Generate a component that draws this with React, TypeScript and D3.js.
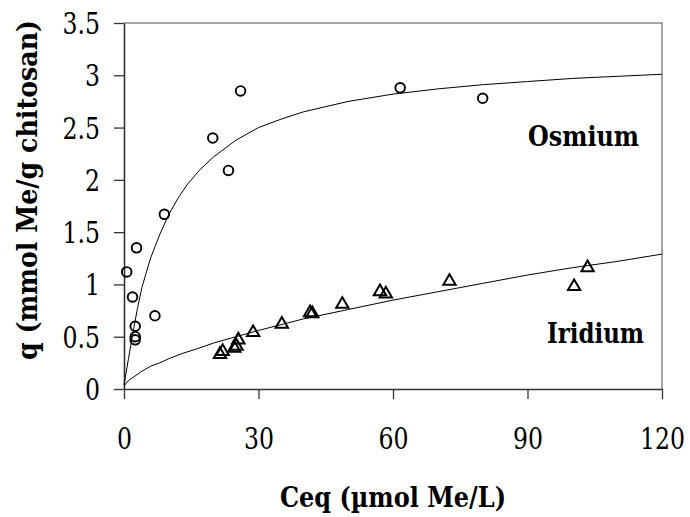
import React, { useEffect, useRef } from 'react';
import * as d3 from 'd3';

// axis ticks
const xTicks = [0, 30, 60, 90, 120];
const yTicks = [0, 0.5, 1, 1.5, 2, 2.5, 3, 3.5];

// measured points, Osmium (circles)
const osmiumCeq = [0.6, 1.9, 2.5, 2.5, 2.5, 2.8, 6.9, 9.0, 19.8, 23.3, 26.0, 61.6, 80.0];
const osmiumQ = [1.12, 0.88, 0.60, 0.50, 0.47, 1.35, 0.70, 1.67, 2.40, 2.09, 2.85, 2.88, 2.78];

// measured points, Iridium (triangles)
const iridiumCeq = [21.4, 22.0, 24.6, 25.1, 25.5, 28.8, 35.2, 41.5, 42.0, 48.7, 57.1, 58.4, 72.6, 100.4, 103.4];
const iridiumQ = [0.33, 0.36, 0.39, 0.41, 0.47, 0.54, 0.62, 0.73, 0.72, 0.81, 0.93, 0.91, 1.03, 0.98, 1.16];

// model curves
const osmiumFitCeq = [0, 1, 2, 3, 4, 5, 6, 7, 8, 10, 12, 14, 17, 20, 25, 30, 35, 40, 50, 60, 70, 80, 90, 100, 110, 120];
const osmiumFitQ = [0.04, 0.29, 0.54, 0.77, 0.97, 1.12, 1.26, 1.37, 1.48, 1.67, 1.82, 1.95, 2.10, 2.22, 2.38, 2.50, 2.58, 2.65, 2.75, 2.82, 2.87, 2.91, 2.94, 2.97, 2.99, 3.01];
const iridiumFitCeq = [0, 1, 2, 4, 6, 8, 10, 13, 16, 20, 25, 30, 40, 50, 60, 70, 80, 90, 100, 110, 120];
const iridiumFitQ = [0.03, 0.08, 0.11, 0.17, 0.22, 0.25, 0.29, 0.34, 0.38, 0.44, 0.50, 0.56, 0.67, 0.76, 0.85, 0.93, 1.01, 1.09, 1.16, 1.22, 1.29];

const FONT = 'DejaVu Serif Condensed, DejaVu Serif, serif';

// squeeze the wide serif to roughly Times proportions
const tickWidth = (s: string) => s.split('').reduce((w, c) => w + (c === '.' ? 7.5 : 15), 0);

function App() {
  const ref = useRef<SVGSVGElement>(null);

  useEffect(() => {
    const svg = d3.select(ref.current);
    svg.selectAll('*').remove();

    const width = 690;
    const height = 517;
    const margin = { top: 23, right: 28, bottom: 128, left: 124 };

    const x = d3.scaleLinear().domain([0, 120]).range([margin.left, width - margin.right]);
    const y = d3.scaleLinear().domain([0, 3.5]).range([height - margin.bottom, margin.top]);

    // top and right frame
    svg.append('path')
      .attr('d', `M${x(0)},${y(3.5)}H${x(120)}V${y(0)}`)
      .attr('fill', 'none')
      .attr('stroke', '#888')
      .attr('stroke-width', 1.5);

    const yAxis = svg.append('g')
      .attr('transform', `translate(${x(0)},0)`)
      .call(d3.axisLeft(y).tickValues(yTicks).tickFormat((d) => String(d)).tickSize(10).tickSizeOuter(0).tickPadding(14));

    const xAxis = svg.append('g')
      .attr('transform', `translate(0,${y(0)})`)
      .call(d3.axisBottom(x).tickValues(xTicks).tickFormat((d) => String(d)).tickSize(10).tickSizeOuter(0).tickPadding(29));

    [xAxis, yAxis].forEach((g) => {
      g.attr('font-family', FONT).attr('font-size', 29);
      g.select('.domain').attr('stroke', '#333').attr('stroke-width', 1.6);
      g.selectAll('.tick line').attr('stroke', '#333').attr('stroke-width', 1.3);
      g.selectAll<SVGTextElement, number>('.tick text')
        .attr('fill', '#000')
        .attr('textLength', (d) => tickWidth(String(d)))
        .attr('lengthAdjust', 'spacingAndGlyphs');
    });
    yAxis.selectAll('.tick text').attr('dy', '0.36em');

    svg.append('path')
      .attr('d', d3.line<number>().x((d) => x(d)).y((d, i) => y(osmiumFitQ[i]))(osmiumFitCeq))
      .attr('fill', 'none')
      .attr('stroke', '#000')
      .attr('stroke-width', 1);

    svg.append('path')
      .attr('d', d3.line<number>().x((d) => x(d)).y((d, i) => y(iridiumFitQ[i]))(iridiumFitCeq))
      .attr('fill', 'none')
      .attr('stroke', '#000')
      .attr('stroke-width', 1);

    svg.append('g')
      .selectAll('circle')
      .data(osmiumCeq)
      .enter().append('circle')
      .attr('cx', (d) => x(d))
      .attr('cy', (d, i) => y(osmiumQ[i]))
      .attr('r', 4.8)
      .attr('fill', 'none')
      .attr('stroke', '#000')
      .attr('stroke-width', 1.9);

    const tri = d3.symbol().type(d3.symbolTriangle).size(66);
    svg.append('g')
      .selectAll('path')
      .data(iridiumCeq)
      .enter().append('path')
      .attr('d', tri() as string)
      .attr('transform', (d, i) => `translate(${x(d)},${y(iridiumQ[i])})`)
      .attr('fill', 'none')
      .attr('stroke', '#000')
      .attr('stroke-width', 2);

    const label = (t: string, px: number, py: number, len: number) =>
      svg.append('text')
        .attr('x', px)
        .attr('y', py)
        .attr('font-family', FONT)
        .attr('font-size', 28)
        .attr('font-weight', 'bold')
        .attr('textLength', len)
        .attr('lengthAdjust', 'spacingAndGlyphs')
        .text(t);

    label('Osmium', 528, 146, 111);
    label('Iridium', 547, 343, 97);

    label('Ceq (\u00b5mol Me/L)', (x(0) + x(120)) / 2, 507, 226).attr('text-anchor', 'middle');
    label('q (mmol Me/g chitosan)', 0, 0, 340)
      .attr('text-anchor', 'middle')
      .attr('transform', `translate(37,${(y(0) + y(3.5)) / 2 - 16}) rotate(-90)`);
  }, []);

  return (
    <svg ref={ref} width="690" height="517" style={{ position: 'absolute', left: 0, top: 0, background: '#fff' }} />
  );
}

export default App;
